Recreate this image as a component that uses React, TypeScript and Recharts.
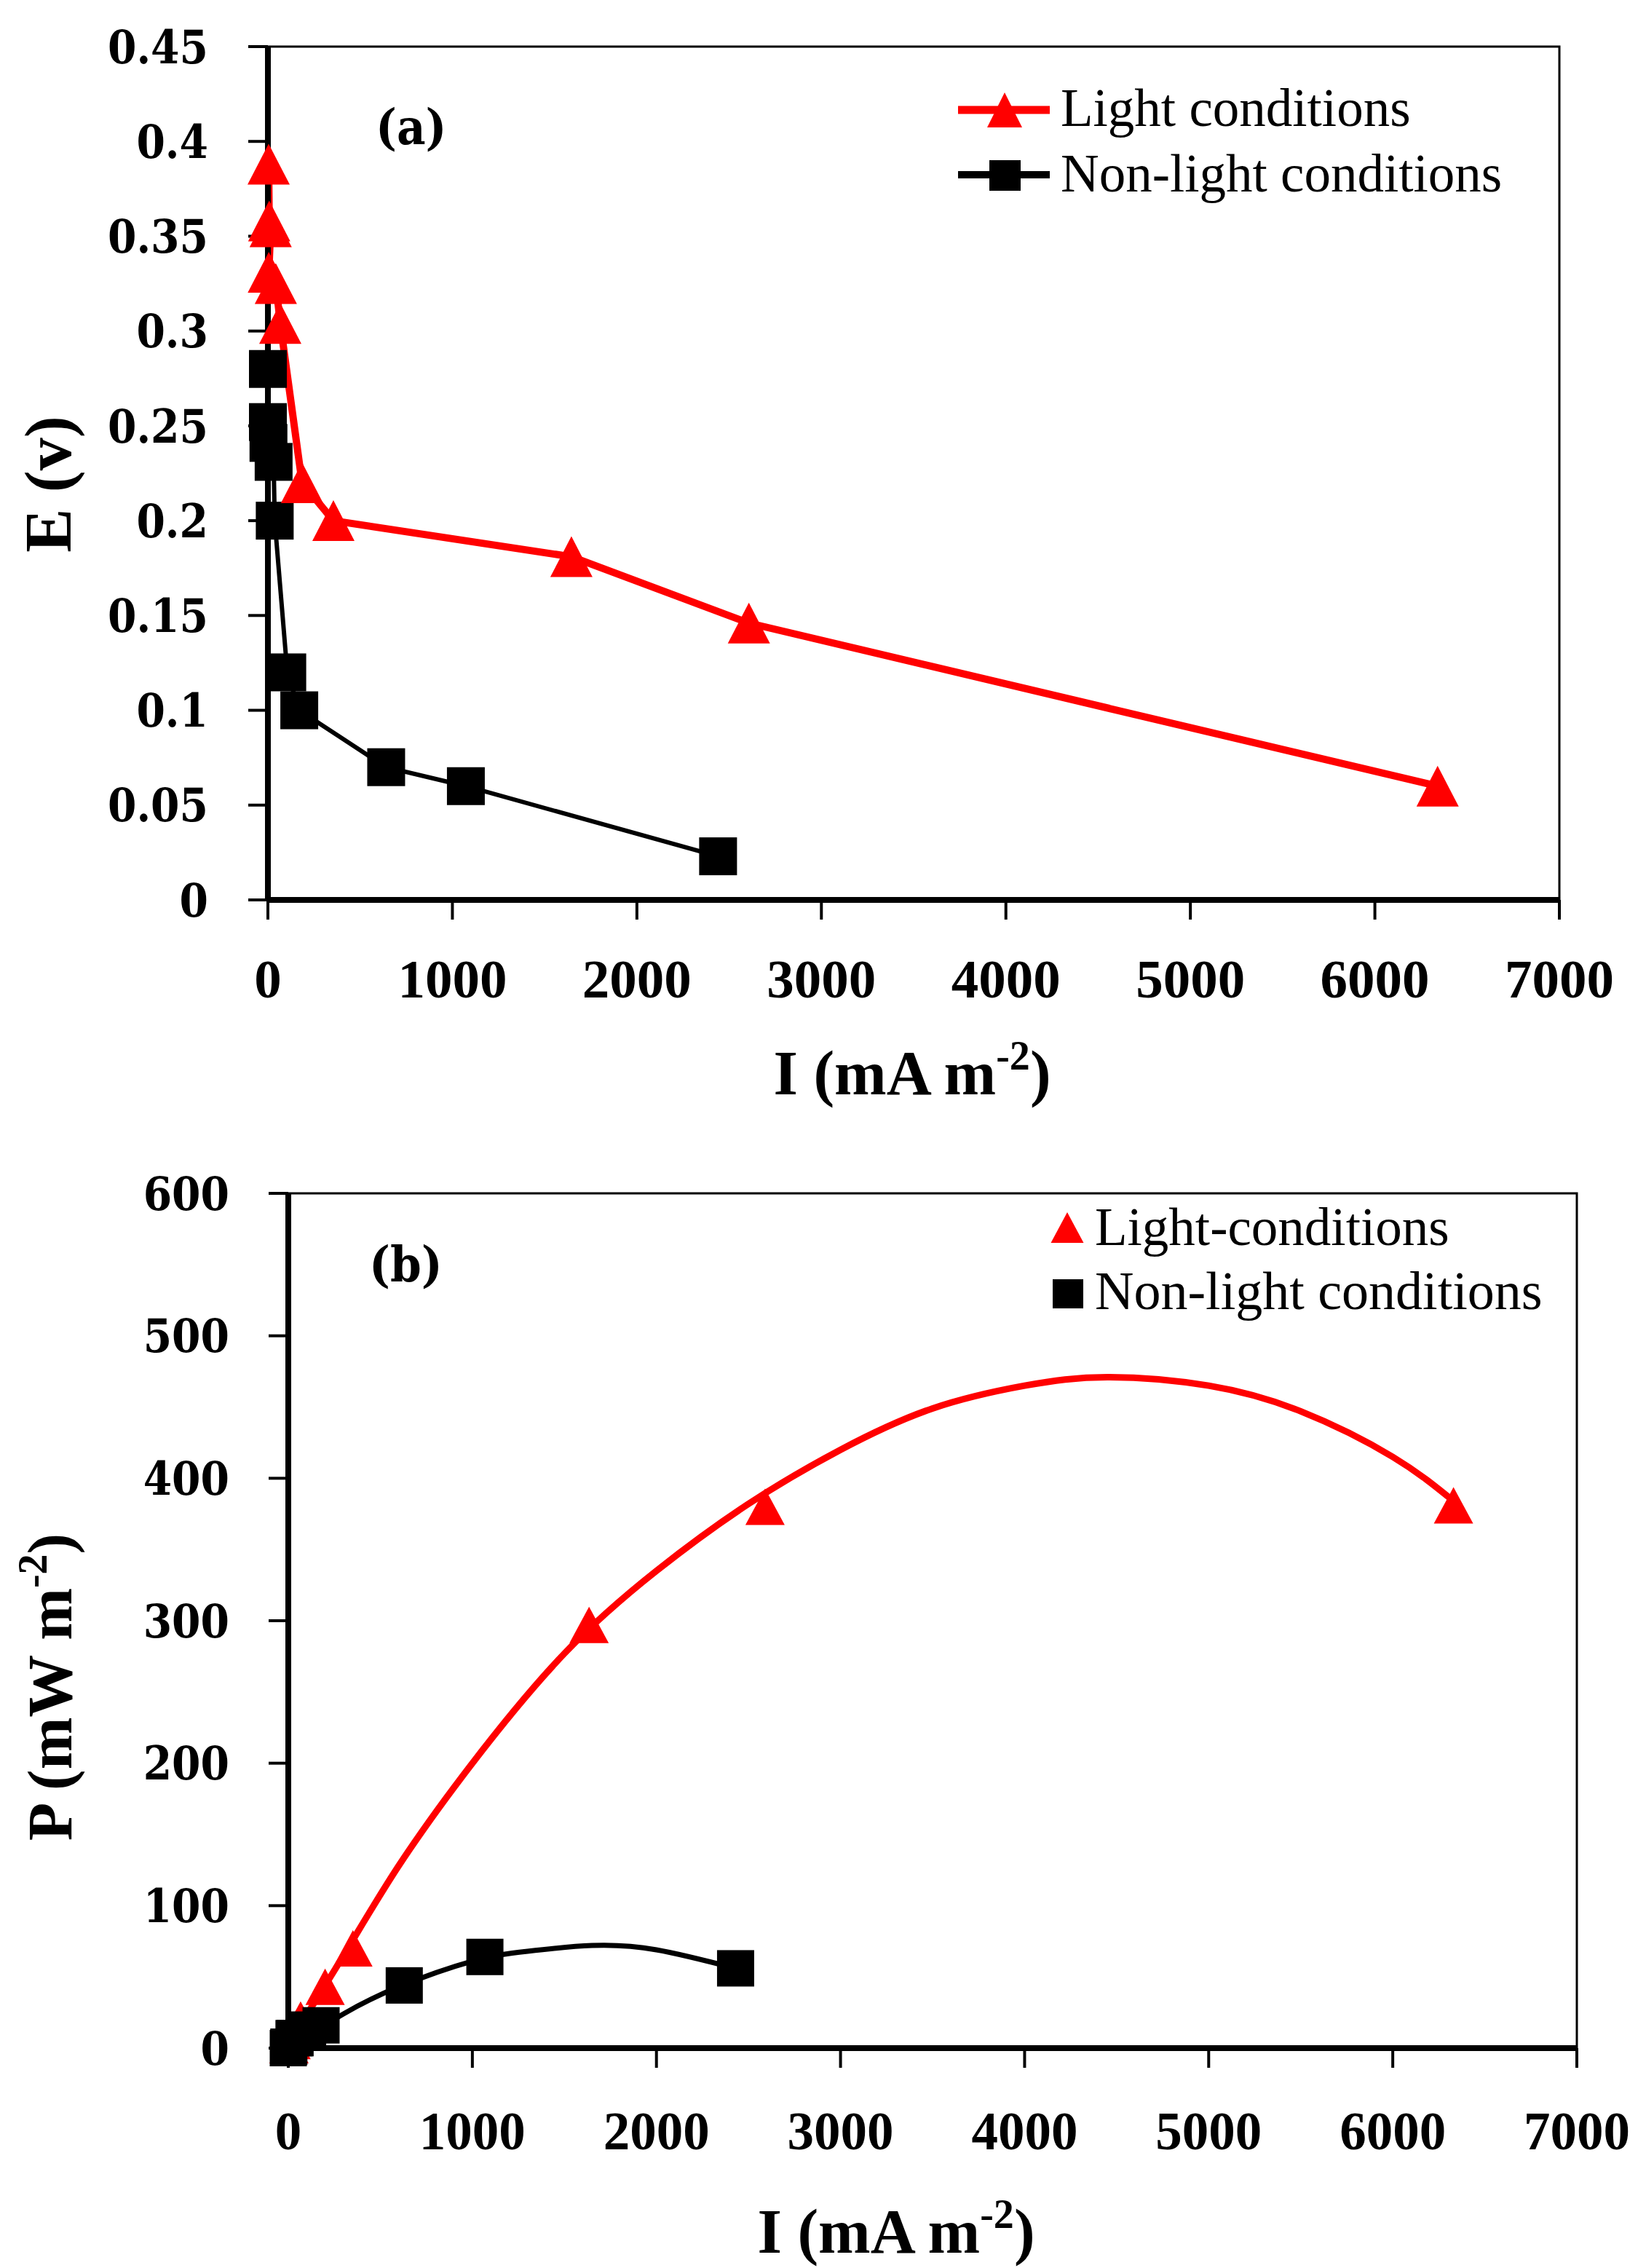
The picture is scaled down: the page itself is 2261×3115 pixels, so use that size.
import React from 'react';
import { ComposedChart, Line, Scatter, XAxis, YAxis, ReferenceArea } from 'recharts';

// ---------- Panel (a): E (v) vs I (mA m-2) ----------
const lightI_a = [4, 7, 15, 5, 43, 67, 185, 355, 1645, 2607, 6340];
const lightE_a = [0.388, 0.358, 0.355, 0.331, 0.325, 0.304, 0.22, 0.2, 0.181, 0.146, 0.06];
const darkI_a = [0, 0, 3, 31, 37, 105, 170, 641, 1073, 2440];
const darkE_a = [0.28, 0.252, 0.241, 0.231, 0.2, 0.12, 0.1, 0.07, 0.06, 0.023];

// ---------- Panel (b): P (mW m-2) vs I (mA m-2) ----------
const lightI_b = [4, 15, 43, 67, 200, 351, 1634, 2590, 6330];
const lightP_b = [2, 5, 14, 20, 43, 70, 297, 380, 381];
const darkI_b = [0, 3, 31, 37, 105, 178, 630, 1068, 2430];
const darkP_b = [0, 1, 7, 7, 13, 16, 44, 64, 56];
// trend curves
const lightTrendI = [0, 300, 600, 1000, 1500, 2000, 2500, 3000, 3500, 4000, 4450, 5000, 5500, 6000, 6330];
const lightTrendP = [3, 65, 128, 200, 277, 335, 382, 420, 449, 465, 471, 465, 447, 415, 384];
const darkTrendI = [0, 300, 600, 1000, 1300, 1650, 2000, 2430];
const darkTrendP = [0, 24, 43, 61, 68, 72, 69, 56];

// ---------- ticks ----------
const xTicks = [0, 1000, 2000, 3000, 4000, 5000, 6000, 7000];
const eTicks = [0, 0.05, 0.1, 0.15, 0.2, 0.25, 0.3, 0.35, 0.4, 0.45];
const pTicks = [0, 100, 200, 300, 400, 500, 600];

const RED = '#ff0000';
const BLACK = '#000000';
const SERIF = 'Liberation Serif';
const YFONT = "'DejaVu Serif Condensed', 'DejaVu Serif'";

const zip = (xs: number[], ys: number[]) => xs.map((i, k) => ({ i, v: ys[k] }));
const lightA = zip(lightI_a, lightE_a);
const darkA = zip(darkI_a, darkE_a);
const lightB = zip(lightI_b, lightP_b);
const darkB = zip(darkI_b, darkP_b);
const lightTrend = zip(lightTrendI, lightTrendP);
const darkTrend = zip(darkTrendI, darkTrendP);

const triPath = (cx: number, cy: number, w: number, h: number) =>
  `M${cx},${cy - h / 2}L${cx + w / 2},${cy + h / 2}L${cx - w / 2},${cy + h / 2}Z`;

const makeTri = (w: number, h: number) => (p: any) => (
  <path key={`t${p.index}`} d={triPath(p.cx, p.cy, w, h)} fill={RED} />
);
const makeSq = (w: number, h: number) => (p: any) => (
  <rect key={`s${p.index}`} x={p.cx - w / 2} y={p.cy - h / 2} width={w} height={h} fill={BLACK} />
);

const makeXTick = (dy: number, size: number) => (p: any) => (
  <text x={p.x} y={p.y + dy} textAnchor="middle" fontFamily={SERIF} fontWeight="bold" fontSize={size} fill="#000">
    {p.payload.value}
  </text>
);
const makeYTick = (size: number) => (p: any) => (
  <text x={p.x} y={p.y + size * 0.36} textAnchor="end" fontFamily={YFONT} fontWeight="bold" fontSize={size} fill="#000">
    {String(p.payload.value)}
  </text>
);

const axisLine = { stroke: '#000', strokeWidth: 8 };
const tickLine = { stroke: '#000', strokeWidth: 4 };

export default function App() {
  return (
    <div style={{ position: 'absolute', left: 0, top: 0, width: 2261, height: 3115, background: '#fff', overflow: 'hidden' }}>
      {/* ---------------- Panel (a) ---------------- */}
      <div style={{ position: 'absolute', left: 0, top: 0 }}>
        <ComposedChart width={2261} height={1560} margin={{ top: 64, right: 119, bottom: 0, left: 0 }}>
          <XAxis
            dataKey="i"
            type="number"
            domain={[0, 7000]}
            ticks={xTicks}
            interval={0}
            height={324}
            tickSize={27}
            tickMargin={0}
            axisLine={axisLine}
            tickLine={tickLine}
            tick={makeXTick(107, 75)}
          />
          <YAxis
            dataKey="v"
            type="number"
            domain={[0, 0.45]}
            ticks={eTicks}
            interval={0}
            width={368}
            tickSize={27}
            tickMargin={55}
            axisLine={axisLine}
            tickLine={tickLine}
            tick={makeYTick(63)}
          />
          <ReferenceArea x1={0} x2={7000} y1={0} y2={0.45} fill="none" stroke="#000" strokeWidth={3} />
          <Line
            data={darkA}
            dataKey="v"
            name="Non-light conditions"
            stroke={BLACK}
            strokeWidth={6}
            isAnimationActive={false}
            dot={makeSq(52, 52)}
            activeDot={false}
          />
          <Line
            data={lightA}
            dataKey="v"
            name="Light conditions"
            stroke={RED}
            strokeWidth={10}
            isAnimationActive={false}
            dot={makeTri(58, 56)}
            activeDot={false}
          />
          {/* panel tag */}
          <text x={516} y={198} fontFamily={YFONT} fontWeight="bold" fontSize={68} fill="#000">(a)</text>
          {/* legend */}
          <line x1={1316} x2={1442} y1={151} y2={151} stroke={RED} strokeWidth={11} />
          <path d={triPath(1380, 151, 48, 48)} fill={RED} />
          <text x={1457} y={173} fontFamily={SERIF} fontSize={73} fill="#000">Light conditions</text>
          <line x1={1316} x2={1442} y1={240} y2={240} stroke={BLACK} strokeWidth={10} />
          <rect x={1359} y={220} width={43} height={42} fill={BLACK} />
          <text x={1457} y={263} fontFamily={SERIF} fontSize={73} fill="#000">Non-light conditions</text>
          {/* axis titles */}
          <text x={1253} y={1503} textAnchor="middle" fontFamily={SERIF} fontWeight="bold" fontSize={86} fill="#000">
            <tspan>I (mA m</tspan>
            <tspan dy={-34} fontSize={56}>-2</tspan>
            <tspan dy={34}>)</tspan>
          </text>
          <text transform="rotate(-90)" x={-665} y={97} textAnchor="middle" fontFamily={SERIF} fontWeight="bold" fontSize={90} fill="#000">
            E (v)
          </text>
        </ComposedChart>
      </div>

      {/* ---------------- Panel (b) ---------------- */}
      <div style={{ position: 'absolute', left: 0, top: 1560 }}>
        <ComposedChart width={2261} height={1555} margin={{ top: 79, right: 95, bottom: 0, left: 0 }}>
          <XAxis
            dataKey="i"
            type="number"
            domain={[0, 7000]}
            ticks={xTicks}
            interval={0}
            height={302}
            tickSize={27}
            tickMargin={0}
            axisLine={axisLine}
            tickLine={tickLine}
            tick={makeXTick(112, 73)}
          />
          <YAxis
            dataKey="v"
            type="number"
            domain={[0, 600]}
            ticks={pTicks}
            interval={0}
            width={396}
            tickSize={27}
            tickMargin={54}
            axisLine={axisLine}
            tickLine={tickLine}
            tick={makeYTick(63)}
          />
          <ReferenceArea x1={0} x2={7000} y1={0} y2={600} fill="none" stroke="#000" strokeWidth={3} />
          <Scatter data={lightB} dataKey="v" name="Light-conditions" isAnimationActive={false} shape={makeTri(54, 50)} />
          <Line data={darkTrend} dataKey="v" type="natural" stroke={BLACK} strokeWidth={7} dot={false} activeDot={false} isAnimationActive={false} />
          <Scatter data={darkB} dataKey="v" name="Non-light conditions" isAnimationActive={false} shape={makeSq(51, 50)} />
          <Line data={lightTrend} dataKey="v" type="natural" stroke={RED} strokeWidth={9} dot={false} activeDot={false} isAnimationActive={false} />
          {/* panel tag */}
          <text x={507} y={200} fontFamily={YFONT} fontWeight="bold" fontSize={68} fill="#000">(b)</text>
          {/* legend */}
          <path d={triPath(1466, 126, 45, 42)} fill={RED} />
          <text x={1504} y={150} fontFamily={SERIF} fontSize={73} fill="#000">Light-conditions</text>
          <rect x={1446} y={197} width={42} height={40} fill={BLACK} />
          <text x={1504} y={238} fontFamily={SERIF} fontSize={74} fill="#000">Non-light conditions</text>
          {/* axis titles */}
          <text x={1231} y={1534} textAnchor="middle" fontFamily={SERIF} fontWeight="bold" fontSize={86} fill="#000">
            <tspan>I (mA m</tspan>
            <tspan dy={-34} fontSize={56}>-2</tspan>
            <tspan dy={34}>)</tspan>
          </text>
          <text transform="rotate(-90)" x={-757} y={98} textAnchor="middle" fontFamily={SERIF} fontWeight="bold" fontSize={86} fill="#000">
            <tspan>P (mW m</tspan>
            <tspan dy={-34} fontSize={56}>-2</tspan>
            <tspan dy={34}>)</tspan>
          </text>
        </ComposedChart>
      </div>
    </div>
  );
}
